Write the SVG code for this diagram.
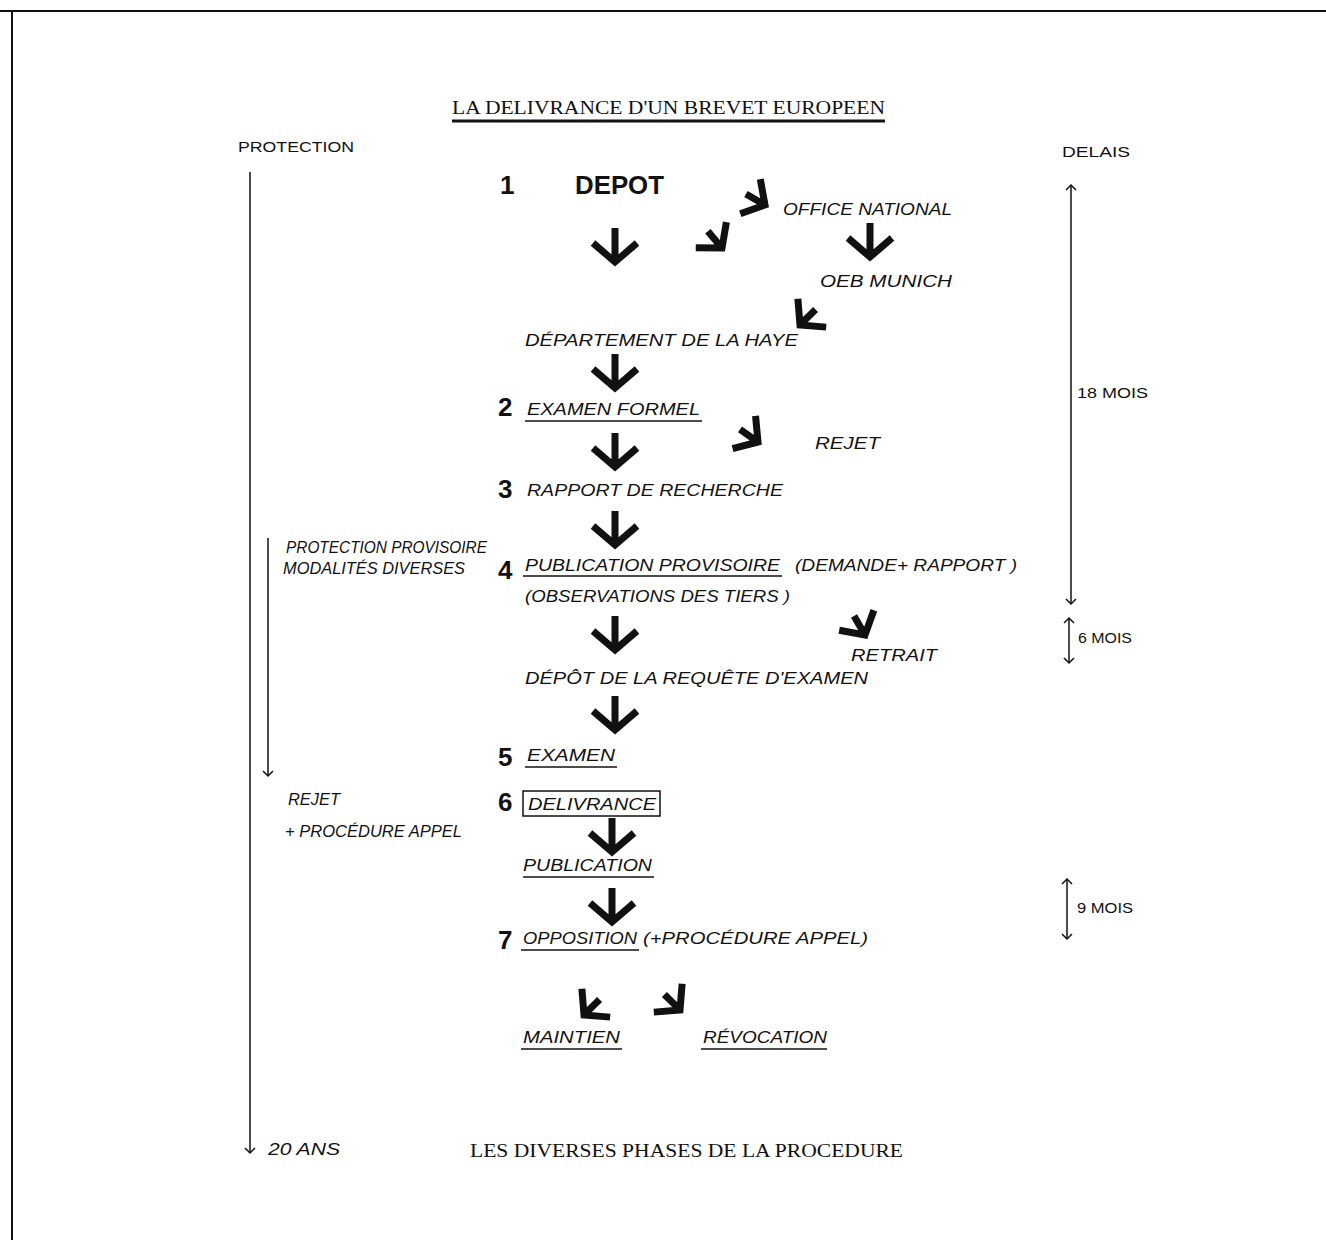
<svg xmlns="http://www.w3.org/2000/svg" width="1326" height="1240" viewBox="0 0 1326 1240">
<style>
.h{font-family:"Liberation Sans",Arial,sans-serif;font-style:italic;font-size:16px;fill:#111}
.s{font-family:"Liberation Sans",Arial,sans-serif;font-size:14px;fill:#111}
.n{font-family:"Liberation Sans",Arial,sans-serif;font-weight:bold;font-size:26px;fill:#111}
.t{font-family:"Liberation Serif","Times New Roman",serif;font-size:19px;fill:#111}
.big{stroke:#111;stroke-width:7;fill:none;stroke-linecap:butt;stroke-linejoin:miter}
.thin{stroke:#111;stroke-width:1.5;fill:none}
.ul{stroke:#111;stroke-width:1.5}
</style>
<defs>
<path id="arr" class="big" d="M0,-34 V-2 M-22,-19 L0,0 L22,-19"/>
<path id="arrs" class="big" d="M0,-22 V-2 M-20,-17 L0,0 L20,-17"/>
<marker id="mh" viewBox="-6 -6 12 12" markerWidth="12" markerHeight="12" markerUnits="userSpaceOnUse" orient="auto-start-reverse"><path d="M-5,-5 L0,0 L-5,5" fill="none" stroke="#111" stroke-width="1.5"/></marker>
</defs>
<g id="frame">
<line x1="0" y1="11" x2="1326" y2="11" stroke="#111" stroke-width="2"/>
<line x1="12" y1="11" x2="12" y2="1240" stroke="#111" stroke-width="2"/>
</g>
<g id="title">
<text class="t" x="452" y="114" textLength="433" lengthAdjust="spacingAndGlyphs">LA DELIVRANCE D'UN BREVET EUROPEEN</text>
<line x1="452" y1="121" x2="885" y2="121" stroke="#111" stroke-width="3"/>
</g>
<g id="connectors">
<use href="#arr" x="615" y="262"/>
<use href="#arrs" transform="translate(722,248) rotate(-40)"/>
<use href="#arrs" transform="translate(765,205) rotate(-60)"/>
<use href="#arr" x="870" y="257"/>
<use href="#arrs" transform="translate(800,325) rotate(45)"/>
<use href="#arr" x="615" y="388"/>
<use href="#arr" x="615" y="467"/>
<use href="#arrs" transform="translate(758,442) rotate(-55)"/>
<use href="#arr" x="615" y="545"/>
<use href="#arr" x="615" y="650"/>
<use href="#arrs" transform="translate(865,635) rotate(-30)"/>
<use href="#arr" x="615" y="730"/>
<use href="#arr" x="612" y="852"/>
<use href="#arr" x="612" y="922"/>
<use href="#arrs" transform="translate(584,1015) rotate(45)"/>
<use href="#arrs" transform="translate(680,1010) rotate(-45)"/>
<line class="thin" x1="250" y1="172" x2="250" y2="1153" marker-end="url(#mh)"/>
<line class="thin" x1="268" y1="538" x2="268" y2="776" marker-end="url(#mh)"/>
<line class="thin" x1="1071" y1="185" x2="1071" y2="604" stroke-width="2" marker-start="url(#mh)" marker-end="url(#mh)"/>
<line class="thin" x1="1069" y1="618" x2="1069" y2="663" stroke-width="2" marker-start="url(#mh)" marker-end="url(#mh)"/>
<line class="thin" x1="1067" y1="879" x2="1067" y2="939" stroke-width="2" marker-start="url(#mh)" marker-end="url(#mh)"/>
</g>
<g id="labels-side">
<text class="s" x="238" y="152" textLength="116" lengthAdjust="spacingAndGlyphs">PROTECTION</text>
<text class="s" x="1062" y="157" textLength="68" lengthAdjust="spacingAndGlyphs">DELAIS</text>
<text class="s" x="1077" y="398" textLength="71" lengthAdjust="spacingAndGlyphs">18 MOIS</text>
<text class="s" x="1078" y="643" font-size="12" textLength="54" lengthAdjust="spacingAndGlyphs">6 MOIS</text>
<text class="s" x="1077" y="913" font-size="12" textLength="56" lengthAdjust="spacingAndGlyphs">9 MOIS</text>
<text class="h" x="268" y="1155" font-style="normal" textLength="72" lengthAdjust="spacingAndGlyphs">20 ANS</text>
<text class="t" x="470" y="1157" textLength="433" lengthAdjust="spacingAndGlyphs">LES DIVERSES PHASES DE LA PROCEDURE</text>
</g>
<g id="n1">
<text class="n" x="500" y="194">1</text>
<text class="n" x="575" y="194" textLength="89" lengthAdjust="spacingAndGlyphs">DEPOT</text>
</g>
<g id="office"><text class="h" x="783" y="215" textLength="169" lengthAdjust="spacingAndGlyphs">OFFICE NATIONAL</text></g>
<g id="oeb"><text class="h" x="820" y="287" textLength="132" lengthAdjust="spacingAndGlyphs">OEB MUNICH</text></g>
<g id="haye"><text class="h" x="525" y="346" textLength="273" lengthAdjust="spacingAndGlyphs">DÉPARTEMENT DE LA  HAYE</text></g>
<g id="n2">
<text class="n" x="498" y="416">2</text>
<text class="h" x="527" y="415" textLength="173" lengthAdjust="spacingAndGlyphs">EXAMEN FORMEL</text>
<line class="ul" x1="525" y1="421" x2="702" y2="421"/>
</g>
<g id="rejet1"><text class="h" x="815" y="449" font-size="12" textLength="65" lengthAdjust="spacingAndGlyphs">REJET</text></g>
<g id="n3">
<text class="n" x="498" y="498">3</text>
<text class="h" x="527" y="496" textLength="256" lengthAdjust="spacingAndGlyphs">RAPPORT DE RECHERCHE</text>
</g>
<g id="provisoire">
<text class="h" x="286" y="553" font-size="13" textLength="201" lengthAdjust="spacingAndGlyphs">PROTECTION PROVISOIRE</text>
<text class="h" x="283" y="574" font-size="13" textLength="182" lengthAdjust="spacingAndGlyphs">MODALITÉS DIVERSES</text>
</g>
<g id="n4">
<text class="n" x="498" y="579">4</text>
<text class="h" x="525" y="571" textLength="255" lengthAdjust="spacingAndGlyphs">PUBLICATION PROVISOIRE</text>
<line class="ul" x1="523" y1="576" x2="782" y2="576"/>
<text class="h" x="795" y="571" textLength="222" lengthAdjust="spacingAndGlyphs">(DEMANDE+ RAPPORT )</text>
<text class="h" x="525" y="602" textLength="265" lengthAdjust="spacingAndGlyphs">(OBSERVATIONS DES TIERS )</text>
</g>
<g id="retrait"><text class="h" x="851" y="661" textLength="86" lengthAdjust="spacingAndGlyphs">RETRAIT</text></g>
<g id="requete"><text class="h" x="525" y="684" textLength="343" lengthAdjust="spacingAndGlyphs">DÉPÔT DE LA REQUÊTE D'EXAMEN</text></g>
<g id="n5">
<text class="n" x="498" y="766">5</text>
<text class="h" x="527" y="761" textLength="88" lengthAdjust="spacingAndGlyphs">EXAMEN</text>
<line class="ul" x1="525" y1="767" x2="617" y2="767"/>
</g>
<g id="rejet2">
<text class="h" x="288" y="805" font-size="13" textLength="52" lengthAdjust="spacingAndGlyphs">REJET</text>
<text class="h" x="285" y="837" font-size="13" textLength="177" lengthAdjust="spacingAndGlyphs">+ PROCÉDURE  APPEL</text>
</g>
<g id="n6">
<text class="n" x="498" y="811">6</text>
<rect x="523" y="791" width="137" height="25" fill="none" stroke="#111" stroke-width="1.5"/>
<text class="h" x="528" y="810" textLength="128" lengthAdjust="spacingAndGlyphs">DELIVRANCE</text>
</g>
<g id="publication">
<text class="h" x="523" y="871" textLength="129" lengthAdjust="spacingAndGlyphs">PUBLICATION</text>
<line class="ul" x1="523" y1="877" x2="654" y2="877"/>
</g>
<g id="n7">
<text class="n" x="498" y="949">7</text>
<text class="h" x="523" y="944" textLength="114" lengthAdjust="spacingAndGlyphs">OPPOSITION</text>
<line class="ul" x1="521" y1="950" x2="639" y2="950"/>
<text class="h" x="643" y="944" textLength="225" lengthAdjust="spacingAndGlyphs">(+PROCÉDURE APPEL)</text>
</g>
<g id="maintien">
<text class="h" x="523" y="1043" textLength="97" lengthAdjust="spacingAndGlyphs">MAINTIEN</text>
<line class="ul" x1="521" y1="1049" x2="622" y2="1049"/>
</g>
<g id="revocation">
<text class="h" x="703" y="1043" textLength="124" lengthAdjust="spacingAndGlyphs">RÉVOCATION</text>
<line class="ul" x1="701" y1="1049" x2="827" y2="1049"/>
</g>
</svg>
